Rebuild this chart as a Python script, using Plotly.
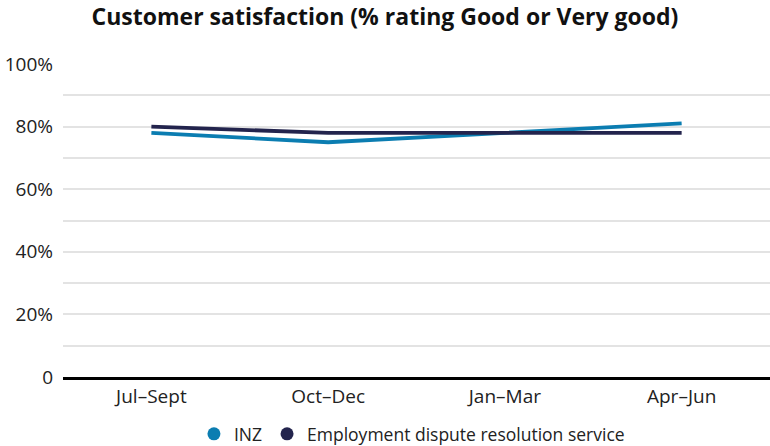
import plotly.graph_objects as go

categories = ["Jul–Sept", "Oct–Dec", "Jan–Mar", "Apr–Jun"]
inz = [78, 75, 78, 81]
edrs = [80, 78, 78, 78]
y_tickvals = [0, 20, 40, 60, 80, 100]
y_ticktext = ["0", "20%", "40%", "60%", "80%", "100%"]
series_names = ["INZ", "Employment dispute resolution service"]
series_colors = ["#0b7db1", "#23244d"]

fig = go.Figure()
for name, vals, col in zip(series_names, [inz, edrs], series_colors):
    fig.add_trace(go.Scatter(x=categories, y=vals, mode="lines", name=name,
                             line=dict(color=col, width=3.8), showlegend=False))
for name, col in zip(series_names, series_colors):
    fig.add_trace(go.Scatter(x=[None], y=[None], mode="markers", name=name,
                             marker=dict(color=col, size=13, symbol="circle")))

fig.update_layout(
    width=770, height=446,
    margin=dict(l=63, r=0, t=64, b=69, autoexpand=False),
    paper_bgcolor="white", plot_bgcolor="white",
    font=dict(family="Open Sans", size=19, color="#222222"),
    title=dict(text="<b>Customer satisfaction (% rating Good or Very good)</b>",
               x=0.5, xanchor="center", y=0.962, yanchor="middle",
               font=dict(family="Open Sans", size=23, color="#111111")),
    showlegend=True,
    legend=dict(orientation="h", xref="container", x=0.535, xanchor="center",
                yref="container", y=0.027, yanchor="middle",
                font=dict(size=17.5, color="#222222"), itemwidth=30),
)
fig.update_xaxes(showgrid=False, showline=True, linecolor="black", linewidth=2.5,
                 ticks="", tickfont=dict(size=19), range=[-0.5, 3.5])
fig.update_yaxes(range=[0, 100], tickvals=y_tickvals, ticktext=y_ticktext,
                 showgrid=True, gridcolor="#e3e3e3", gridwidth=1.5,
                 minor=dict(dtick=10, showgrid=True, gridcolor="#e3e3e3", gridwidth=1.5),
                 zeroline=False, ticks="", ticklabelstandoff=9, tickfont=dict(size=19))

fig.write_html("out.html", config={"displayModeBar": False},
               post_script="document.body.style.margin='0';document.body.style.overflow='hidden';")
